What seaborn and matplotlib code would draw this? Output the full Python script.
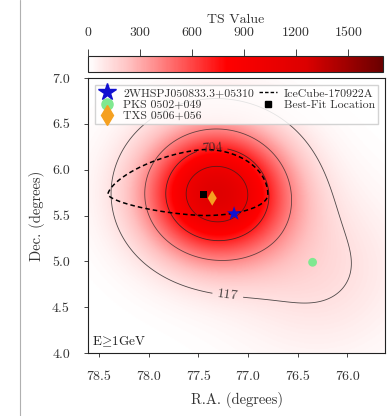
import numpy as np
import matplotlib
matplotlib.use("Agg")
import matplotlib.pyplot as plt
from matplotlib.colors import LinearSegmentedColormap, Normalize
from matplotlib.lines import Line2D
import seaborn as sns
import pandas as pd

# ---------------- data ----------------
# TS map model components
ts_amp = [1200.0, 130.0]
ts_ra = [77.32, 76.30]
ts_dec = [5.74, 4.90]
ts_sig_ra = [0.49, 0.60]
ts_sig_dec = [0.48, 0.60]
ts_vmax = 1700
contour_levels = [117, 410, 704, 997]
labelled_levels = [117, 704]
label_pos = [(77.2, 4.66), (77.36, 6.22)]
cbar_ticks = [0, 300, 600, 900, 1200, 1500]

# IceCube-170922A 90% region
ice_ra, ice_dec = 77.43, 5.73
ice_ra_plus, ice_ra_minus = 0.98, 0.63
ice_dec_plus, ice_dec_minus = 0.49, 0.23

# sources
src_names = ["2WHSPJ050833.3+05310", "PKS 0502+049", "TXS 0506+056"]
src_ra = [77.14, 76.35, 77.36]
src_dec = [5.52, 4.99, 5.69]
src_colors = ["#1010d0", "#80e890", "#f5a020"]
src_markers = ["*", "o", "d"]
src_sizes = [120, 40, 60]
best_ra, best_dec = [77.45], [5.73]

xlim = (78.61, 75.62)
ylim = (4.0, 7.0)
xticks = [78.5, 78.0, 77.5, 77.0, 76.5, 76.0]
yticks = [4.0, 4.5, 5.0, 5.5, 6.0, 6.5, 7.0]

# ---------------- style ----------------
sns.set_style("white")
plt.rcParams["font.family"] = ["cmr10", "DejaVu Serif"]
plt.rcParams["mathtext.fontset"] = "cm"
plt.rcParams["axes.formatter.use_mathtext"] = True

fig = plt.figure(figsize=(3.91, 4.16), dpi=100)
ax = fig.add_axes([0.225, 0.1514, 0.760, 0.661])
cax = fig.add_axes([0.225, 0.827, 0.754, 0.038])

cmap = LinearSegmentedColormap.from_list(
    "wr", [(0.0, "#ffffff"), (0.14, "#ffc0c0"), (0.47, "#ff0000"),
           (0.74, "#dc0000"), (1.0, "#6a0000")])
norm = Normalize(0, ts_vmax)

ra = np.linspace(xlim[0], xlim[1], 400)
dec = np.linspace(ylim[0], ylim[1], 400)
RA, DEC = np.meshgrid(ra, dec)
TS = np.zeros_like(RA)
for a, r0, d0, sr, sd in zip(ts_amp, ts_ra, ts_dec, ts_sig_ra, ts_sig_dec):
    TS += a * np.exp(-0.5 * (((RA - r0) / sr) ** 2 + ((DEC - d0) / sd) ** 2))

im = ax.imshow(TS, extent=(ra[0], ra[-1], dec[0], dec[-1]), origin="lower",
               aspect="auto", cmap=cmap, norm=norm, interpolation="bilinear")
other_levels = [l for l in contour_levels if l not in labelled_levels]
ax.contour(RA, DEC, TS, levels=other_levels, colors="#222222",
           linewidths=0.6, alpha=0.7)
cs = ax.contour(RA, DEC, TS, levels=labelled_levels, colors="#222222",
                linewidths=0.6, alpha=0.8)
ax.clabel(cs, fmt="%d", fontsize=10, inline=True, manual=label_pos)

# IceCube contour (asymmetric, pointed toward higher RA)
t = np.linspace(0, 2 * np.pi, 400)
u, v = np.cos(t), np.sin(t)
left = u < 0
p = np.where(left, 2 / 1.55, 1.0)
ice_x = np.where(left, ice_ra + ice_ra_plus * np.abs(u) ** p,
                 ice_ra - ice_ra_minus * np.abs(u))
ice_y = np.where(v > 0, ice_dec + ice_dec_plus * np.abs(v) ** p,
                 ice_dec - ice_dec_minus * np.abs(v) ** p)
ax.plot(ice_x, ice_y, ls=(0, (3, 2)), color="k", lw=1.1)

# sources
df = pd.DataFrame({"ra": src_ra, "dec": src_dec, "name": src_names})
for i in range(len(src_names)):
    sns.scatterplot(data=df.iloc[[i]], x="ra", y="dec", ax=ax, marker=src_markers[i],
                    s=src_sizes[i], color=src_colors[i], edgecolor="none", zorder=5,
                    legend=False)
sns.scatterplot(x=best_ra, y=best_dec, ax=ax, marker="s", s=22, color="k",
                edgecolor="none", zorder=4, legend=False)

ax.set_xlim(*xlim)
ax.set_ylim(*ylim)
ax.set_xticks(xticks)
ax.set_yticks(yticks)
ax.set_xticklabels([f"{x:.1f}" for x in xticks])
ax.set_yticklabels([f"{y:.1f}" for y in yticks])
ax.tick_params(direction="out", length=3, width=0.6, labelsize=10,
               labelcolor="#333333", bottom=True, left=True)
ax.tick_params(axis="x", pad=10)
ax.tick_params(axis="y", pad=10)
ax.set_xlabel("")
ax.set_ylabel("")
fig.text(0.225 + 0.76 / 2, 0.038, "R.A. (degrees)", ha="center", va="center",
         fontsize=10.5, color="#333333")
fig.text(0.095, 0.1514 + 0.661 / 2, "Dec. (degrees)", ha="center", va="center",
         rotation=90, fontsize=10.5, color="#333333")
for s in ax.spines.values():
    s.set_color("#222222")
    s.set_linewidth(0.8)
ax.text(0.012, 0.015, r"E$\!\geq\!$1GeV", transform=ax.transAxes, fontsize=9.5,
        ha="left", va="bottom", color="#222222")

handles = [
    Line2D([], [], ls="none", marker="*", ms=13, color=src_colors[0]),
    Line2D([], [], ls="none", marker="o", ms=8, color=src_colors[1]),
    Line2D([], [], ls="none", marker="d", ms=10, color=src_colors[2]),
    Line2D([], [], ls=(0, (2.5, 1.5)), color="k", lw=1.0),
    Line2D([], [], ls="none", marker="s", ms=5, color="k"),
]
labels = src_names + ["IceCube-170922A", "Best-Fit Location"]
leg = ax.legend(handles, labels, ncol=2, loc="upper left",
                bbox_to_anchor=(0.005, 0.995, 0.99, 0), mode="expand",
                fontsize=8.5, frameon=True, framealpha=0.85, handlelength=1.5,
                handletextpad=0.6, labelspacing=0.08, borderpad=0.25,
                columnspacing=0.5, fancybox=False, edgecolor="#cccccc")
for txt in leg.get_texts():
    txt.set_color("#333333")

cb = fig.colorbar(im, cax=cax, orientation="horizontal", ticks=cbar_ticks)
cax.xaxis.set_ticks_position("top")
cax.xaxis.set_label_position("top")
cb.set_label("TS Value", fontsize=10, color="#333333", labelpad=2)
cax.tick_params(labelsize=10, length=5, width=0.6, pad=7, labelcolor="#333333")
cb.outline.set_linewidth(0.8)

fig.add_artist(Line2D([20 / 391, 20 / 391], [0, 1], transform=fig.transFigure,
                      color="#b0b0b0", lw=0.8))

fig.savefig("out.png", dpi=100)
